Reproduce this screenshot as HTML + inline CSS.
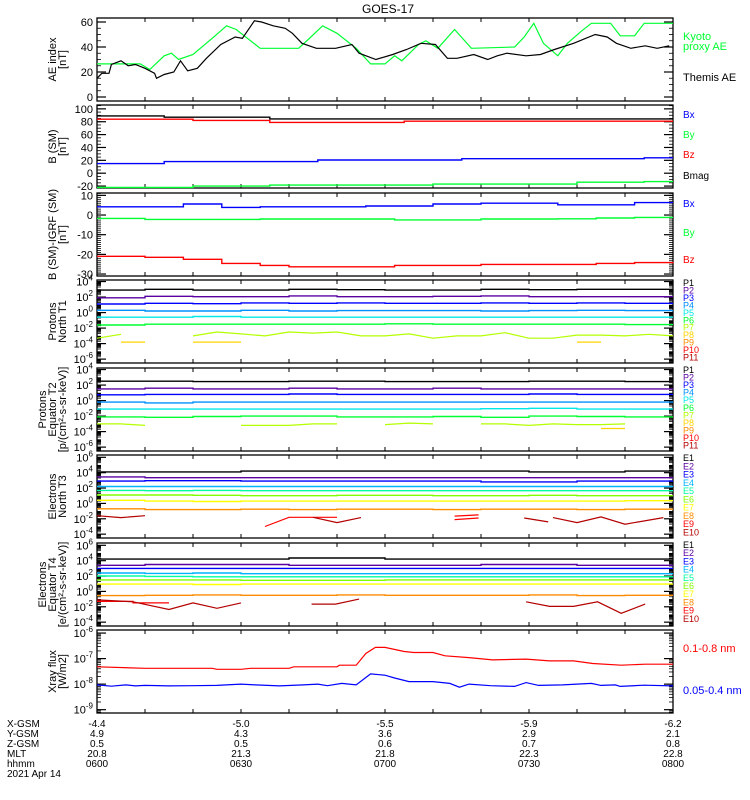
<!DOCTYPE html>
<html><head><meta charset="utf-8"><style>
html,body{margin:0;padding:0;background:#fff;}
svg{display:block;font-family:"Liberation Sans",sans-serif;}
</style></head><body>
<svg id="chart" width="750" height="800" viewBox="0 0 750 800" xmlns="http://www.w3.org/2000/svg"></svg>
<script>
// ---------- DATA ----------
const aeThemisTime=[0,1,2.5,3,5,6.5,8,10,12,12.4,14,16,17.4,18.9,20.9,22.8,25.8,28.8,30.3,32.8,34.3,36.7,39.2,40.7,42.7,45.7,49.7,53.1,54.6,58.1,61.6,64.5,67.5,70.5,73,75,78.5,81.4,83.4,85.4,89.4,92.4,95.3,99.3,103.8,106.3,108.2,111.2,114.2,116.7,119.2];
const aeThemis=[15,19,19,26,29,25,26,23,19,15,18,20,29,21,23,31,42,48,47,61,60,57,55,51,43,39,39,42,35,30,34,38,43,42,31,31,34,30,33,35,33,34,38,43,50,48,43,39,41,39,41];
const aeKyotoTime=[0,9,11,14,15.5,17,20,24,27,29,34,42,44,47,50,54,57,60,62,63.5,67,68.5,71,74.5,78,87,89,91,93,96,98,101,103,107,109,112,114,120];
const aeKyoto=[26.5,26.5,22,33,35,30,34,47,57,54,39,39,46,57,51,39,26.5,26.5,33,29,42,45,39,54,39,40,48,59,43,33,43,53,59,59,49,49,59,59];

const bsmTime=[0,10,14,20,26,30,36,40,46,50,56,60,64,70,76,80,86,90,96,100,106,110,114,120];
const bsmBx=[15,15,18,18,18,18,18,18,20.5,20.5,20.5,20.5,20.5,20.5,22.6,22.6,22.6,22.6,22.6,22.6,22.6,22.6,24,24];
const bsmBy=[-22,-22,-22,-20,-20,-20,-18.5,-18.5,-18.5,-18.5,-18.5,-18.5,-18.5,-17,-17,-17,-17,-17,-17,-14,-14,-14,-13,-13];
const bsmBz=[84,84,84,82,82,82,79,79,79,79,79,79,80.8,80.8,80.8,80.8,80.8,80.8,80.8,80.8,80.8,80.8,80.8,80.8];
const bsmBmag=[89,89,87,87,87,87,84.4,84.4,84.4,84.4,84.4,84.4,84.4,84.4,84.4,84.4,84.4,84.4,84.4,84.4,84.4,84.4,84.4,84.4];

const dbTime=[0,10,18,26,34,40,48,56,62,70,80,90,96,104,112,120];
const dbBx=[4.2,4.2,5.6,3.9,4.2,4.2,4.2,4.6,4.6,5.6,6,6,5.2,5.2,6.3,6.3];
const dbBy=[-1.7,-2.2,-2.2,-2.2,-2,-2,-2,-2,-2.5,-2.5,-2,-2,-1.9,-1.5,-1.2,-1.2];
const dbBz=[-21,-21.5,-22.5,-24.6,-25.6,-26.3,-26.3,-26.3,-25.6,-25.6,-25.1,-25.1,-25.1,-24.6,-24.2,-24.6];

const stepTimes=[0,10,20,30,40,50,60,70,80,90,100,110];
const t1P1=[2.9,3.0,2.9,2.9,3.0,2.95,2.9,2.9,3.0,2.95,3.0,3.0];
const t1P2=[1.9,2.1,2.05,2.05,2.15,2.05,2.05,2.1,2.15,2.05,2.05,2.05];
const t1P3=[1.1,1.2,1.15,1.25,1.2,1.25,1.2,1.2,1.25,1.2,1.25,1.2];
const t1P4=[0.3,0.2,0.2,0.3,0.2,0.25,0.25,0.25,0.2,0.25,0.3,0.25];
const t1P5=[-0.6,-0.6,-0.5,-0.6,-0.6,-0.6,-0.6,-0.6,-0.6,-0.6,-0.6,-0.6];
const t1P6=[-1.6,-1.5,-1.5,-1.5,-1.5,-1.5,-1.45,-1.5,-1.5,-1.5,-1.5,-1.55];
const t1P7Time=[0,5,12,20,25,30,35,40,45,50,55,60,65,70,75,80,85,90,95,100,105,110,115,120];
const t1P7=[-3.3,-2.8,null,-3.0,-2.5,-2.75,-3.0,-2.5,-2.65,-2.5,-3.0,-3.0,-2.75,-3.3,-3.0,-3.0,-2.6,-3.3,-3.3,-2.9,-2.9,-3.0,-2.8,-3.0];
const t1P8Time=[5,10,15,20,30,60,100,105];
const t1P8=[-3.8,-3.8,null,-3.8,-3.8,null,-3.8,-3.8];

const t2P1=[2.5,2.5,2.45,2.45,2.5,2.5,2.45,2.45,2.45,2.5,2.5,2.45];
const t2P2=[1.5,1.6,1.5,1.5,1.6,1.5,1.5,1.6,1.5,1.5,1.5,1.5];
const t2P3=[0.75,0.8,0.8,0.8,0.85,0.8,0.8,0.8,0.8,0.85,0.8,0.8];
const t2P4=[-0.2,-0.3,-0.2,-0.2,-0.2,-0.2,-0.2,-0.2,-0.2,-0.2,-0.2,-0.2];
const t2P5=[-1.1,-1.1,-1.1,-1.1,-1.1,-1.1,-1.1,-1.1,-1.05,-1.0,-1.1,-1.1];
const t2P6=[-2.1,-2.15,-2.05,-2.0,-2.0,-2.1,-2.1,-2.05,-2.15,-2.0,-2.05,-2.1];
const t2P7Time=[0,5,10,20,30,35,40,45,50,55,60,65,70,75,80,85,90,95,100,105,110];
const t2P7=[-3.0,-3.0,-3.2,null,-3.2,-3.2,-3.2,-3.0,-3.0,null,-3.1,-2.9,-3.0,null,-3.0,-3.0,-3.2,-3.0,-3.1,-3.1,-3.0];
const t2P8Time=[105,110];
const t2P8=[-3.6,-3.6];

const t3E1=[4.1,4.1,4.1,4.2,4.2,4.2,4.2,4.2,4.2,4.1,4.1,4.2];
const t3E2=[3.45,3.35,3.35,3.35,3.35,3.35,3.35,3.35,3.35,3.35,3.35,3.35];
const t3E3=[2.9,2.95,2.95,2.9,2.9,2.9,2.9,2.9,2.8,2.8,2.9,2.9];
const t3E4=[2.2,2.2,2.2,2.2,2.2,2.2,2.2,2.2,2.2,2.2,2.2,2.2];
const t3E5=[1.7,1.65,1.7,1.65,1.65,1.65,1.65,1.65,1.65,1.65,1.65,1.65];
const t3E6=[1.1,1.1,1.05,1.0,1.0,1.05,1.05,1.0,1.0,1.05,1.0,1.0];
const t3E7=[0.4,0.3,0.25,0.3,0.3,0.3,0.3,0.3,0.3,0.3,0.3,0.35];
const t3E8=[-0.7,-0.8,-0.8,-0.75,-0.8,-0.75,-0.75,-0.8,-0.75,-0.75,-0.8,-0.75];
const t3E9Time=[35,40,45,50,60,74.5,79.5,80,74.5,79.5];
const t3E9=[-3.0,-1.8,-1.8,-1.8,null,-1.65,-1.5,null,-2.1,-1.9];
const t3E10Time=[0,5,10,20,45,50,55,70,89,94,95,95,100,105,110,118];
const t3E10=[-1.6,-1.85,-1.6,null,-1.8,-2.5,-1.85,null,-1.9,-2.4,null,-1.85,-2.5,-1.75,-2.7,-1.85];

const t4E1=[4.2,4.2,4.2,4.2,4.35,4.35,4.2,4.2,4.2,4.2,4.2,4.2];
const t4E2=[3.4,3.5,3.5,3.5,3.4,3.4,3.4,3.4,3.5,3.5,3.4,3.4];
const t4E3=[3.0,3.0,3.0,3.0,3.0,3.0,3.0,3.0,3.0,3.0,3.0,3.0];
const t4E4=[2.4,2.35,2.4,2.3,2.3,2.3,2.3,2.3,2.3,2.3,2.3,2.3];
const t4E5=[2.0,1.95,1.9,1.9,1.9,1.9,1.9,1.9,1.9,1.9,1.9,1.9];
const t4E6=[1.5,1.5,1.5,1.45,1.45,1.45,1.5,1.5,1.5,1.5,1.5,1.5];
const t4E7=[0.95,0.95,0.9,0.95,0.95,0.95,0.95,0.95,0.95,0.95,0.95,0.95];
const t4E8=[-0.55,-0.5,-0.45,-0.5,-0.5,-0.45,-0.5,-0.5,-0.5,-0.45,-0.55,-0.5];
const t4E9Time=[0,7.5,7.5,15];
const t4E9=[-1.3,-1.3,-1.5,-1.5];
const t4E10Time=[0,7.5,15,20,25,30,38,44.7,49.7,54.6,70,89.4,94.3,99.3,104.3,109.2,114.2];
const t4E10=[-1.1,-1.35,-2.35,-1.5,-2.2,-1.5,null,-1.65,-1.65,-1.0,null,-1.35,-1.95,-1.95,-1.35,-2.85,-1.65];

const xrLongTime=[0,10,24,25,30,32,40,41,50,50.5,54,56,58,60,64,66,70,72.5,77.5,82.4,89.4,94.3,99.3,103.3,109.2,114.2,120];
const xrLong=[-7.32,-7.38,-7.38,-7.42,-7.42,-7.38,-7.38,-7.32,-7.32,-7.26,-7.26,-6.8,-6.56,-6.56,-6.72,-6.76,-6.76,-6.89,-6.96,-7.05,-7.02,-7.09,-7.09,-7.19,-7.26,-7.22,-7.22];
const xrShortTime=[0,3,6,8,10,15,20,25,30,33,38,43,46,48,51,54,57,60,62,65,70,73.5,75.5,77.5,82,87,89.4,92,97,103,105,108,109,114,120];
const xrShort=[-8.03,-8.08,-8.03,-8.07,-8.05,-8.07,-8.06,-8.05,-8.0,-8.03,-8.07,-8.03,-8.0,-8.06,-7.97,-8.03,-7.6,-7.65,-7.76,-7.9,-7.9,-7.97,-8.12,-8.0,-8.06,-8.09,-7.94,-8.05,-8.03,-7.97,-8.05,-8.03,-8.09,-8.04,-8.07];

const aeTickLabels=[0,20,40,60];
const bsmTickLabels=[-20,0,20,40,60,80,100];
const dbTickLabels=[-30,-20,-10,0,10];
const protonTickExps=[-6,-4,-2,0,2,4];
const electronTickExps=[-4,-2,0,2,4,6];
const xrayTickExps=[-9,-8,-7,-6];
const xGsm=["-4.4","-5.0","-5.5","-5.9","-6.2"];
const yGsm=["4.9","4.3","3.6","2.9","2.1"];
const zGsm=["0.5","0.5","0.6","0.7","0.8"];
const mlt=["20.8","21.3","21.8","22.3","22.8"];
const hhmm=["0600","0630","0700","0730","0800"];

// ---------- DRAW ----------
const NS="http://www.w3.org/2000/svg";
const svg=document.getElementById('chart');
const X0=97,X1=673,T_MAX=120,PH=83;
function xs(t){return X0+(t/T_MAX)*(X1-X0);}
function mk(tag,attrs,parent){const e=document.createElementNS(NS,tag);for(const k in attrs)e.setAttribute(k,attrs[k]);(parent||svg).appendChild(e);return e;}
function makeY(top,lo,hi){return v=>top+PH-(v-lo)/(hi-lo)*PH;}

const COL={blk:"#000",pur:"#5a00a0",blu:"#0000ff",dod:"#0090ff",cyn:"#00e8e8",grn:"#00ff30",yg:"#b4ff00",yel:"#ffd400",org:"#ff8c00",red:"#ff0000",drd:"#b40000",spr:"#00ffa0",lim:"#80ff00",ye2:"#ffff00"};

function drawLine(g,tArr,vArr,ys,color,name){
  let d="",pen=false;
  for(let i=0;i<tArr.length;i++){
    if(vArr[i]===null||vArr[i]===undefined){pen=false;continue;}
    d+=(pen?"L":"M")+xs(tArr[i]).toFixed(1)+","+ys(vArr[i]).toFixed(1);pen=true;
  }
  const p=mk('path',{d:d,fill:"none",stroke:color,"stroke-width":1.2},g);
  
  
}
function drawStep(g,tArr,vArr,ys,color,name){
  let d="";
  for(let i=0;i<tArr.length;i++){
    const xa=xs(tArr[i]),xb=xs(i+1<tArr.length?tArr[i+1]:T_MAX),y=ys(vArr[i]).toFixed(1);
    d+=(i===0?"M":"L")+xa.toFixed(1)+","+y+"L"+xb.toFixed(1)+","+y;
  }
  const p=mk('path',{d:d,fill:"none",stroke:color,"stroke-width":1.4},g);
  
  
}
function frame(g,top,ysc,ticks,log,minorStep,lo,hi,labelFn){
  mk('rect',{x:X0,y:top,width:X1-X0,height:PH,fill:"none",stroke:"#000","stroke-width":1.3},g);
  // x ticks every 10 min
  for(let t=10;t<T_MAX;t+=10){
    const x=xs(t);
    mk('line',{x1:x,y1:top,x2:x,y2:top+4,stroke:"#000"},g);
    mk('line',{x1:x,y1:top+PH,x2:x,y2:top+PH-4,stroke:"#000"},g);
  }
  // minor y ticks
  if(log){
    for(let e=Math.floor(lo);e<hi;e++){
      for(let m=2;m<10;m++){const v=e+Math.log10(m);if(v<=lo||v>=hi)continue;const y=ysc(v);
        mk('line',{x1:X0,y1:y,x2:X0+4,y2:y,stroke:"#000","stroke-width":0.8},g);
        mk('line',{x1:X1,y1:y,x2:X1-4,y2:y,stroke:"#000","stroke-width":0.8},g);}
    }
  }else if(minorStep){
    for(let v=Math.ceil(lo/minorStep)*minorStep;v<hi;v+=minorStep){const y=ysc(v);
      mk('line',{x1:X0,y1:y,x2:X0+4,y2:y,stroke:"#000","stroke-width":0.8},g);
      mk('line',{x1:X1,y1:y,x2:X1-4,y2:y,stroke:"#000","stroke-width":0.8},g);}
  }
  ticks.forEach(v=>{
    const y=ysc(v);
    mk('line',{x1:X0,y1:y,x2:X0+9,y2:y,stroke:"#000","stroke-width":1.2},g);
    mk('line',{x1:X1,y1:y,x2:X1-9,y2:y,stroke:"#000","stroke-width":1.2},g);
    const tx=mk('text',{x:X0-4,y:y+4,"font-size":11,"text-anchor":"end"},g);
    if(log){tx.textContent="10";const s=mk('tspan',{dy:-5,"font-size":8},tx);s.textContent=String(v);}
    else tx.textContent=String(v);
    
    
  });
}
function ytitle(g,top,lines){
  const cy=top+PH/2,n=lines.length;
  lines.forEach((s,i)=>{
    const bx=66-(n-1-i)*10;
    const t=mk('text',{x:bx,y:cy,"font-size":11,"text-anchor":"middle",transform:`rotate(-90 ${bx} ${cy})`},g);
    t.textContent=s;
    
    
  });
}
function legend(g,items,x){
  items.forEach(it=>{
    const t=mk('text',{x:x,y:it[2],"font-size":it[3]||10,fill:it[1]},g);
    t.textContent=it[0];
    
    
  });
}
function panel(name){const g=mk('g',{});return g;}

// title
const title=mk('text',{x:388,y:13,"font-size":12,"text-anchor":"middle"});
title.textContent="GOES-17";



// Panel 1 AE
{const top=18,lo=-3.2,hi=63.2,ys=makeY(top,lo,hi),g=panel('ae-index-panel');
 frame(g,top,ys,aeTickLabels,false,5,lo,hi);
 drawLine(g,aeKyotoTime,aeKyoto,ys,COL.grn,'kyoto-ae-line');
 drawLine(g,aeThemisTime,aeThemis,ys,COL.blk,'themis-ae-line');
 ytitle(g,top,["AE index","[nT]"]);
 legend(g,[["Kyoto",COL.grn,40,11],["proxy AE",COL.grn,50,11],["Themis AE","#000",81,11]],683);}
// Panel 2 B SM
{const top=105,lo=-23,hi=106,ys=makeY(top,lo,hi),g=panel('b-sm-panel');
 frame(g,top,ys,bsmTickLabels,false,5,lo,hi);
 drawStep(g,bsmTime,bsmBmag,ys,COL.blk,'bmag-line');
 drawStep(g,bsmTime,bsmBz,ys,COL.red,'bz-line');
 drawStep(g,bsmTime,bsmBx,ys,COL.blu,'bx-line');
 drawStep(g,bsmTime,bsmBy,ys,COL.grn,'by-line');
 ytitle(g,top,["B (SM)","[nT]"]);
 legend(g,[["Bx",COL.blu,118],["By",COL.grn,138],["Bz",COL.red,158],["Bmag","#000",179]],683);}
// Panel 3 B-IGRF
{const top=193,lo=-31,hi=11.2,ys=makeY(top,lo,hi),g=panel('b-minus-igrf-panel');
 frame(g,top,ys,dbTickLabels,false,1,lo,hi);
 drawStep(g,dbTime,dbBx,ys,COL.blu,'dbx-line');
 drawStep(g,dbTime,dbBy,ys,COL.grn,'dby-line');
 drawStep(g,dbTime,dbBz,ys,COL.red,'dbz-line');
 ytitle(g,top,["B (SM)-IGRF (SM)","[nT]"]);
 legend(g,[["Bx",COL.blu,207],["By",COL.grn,236],["Bz",COL.red,263]],683);}
const pNames=["P1","P2","P3","P4","P5","P6","P7","P8","P9","P10","P11"];
const pCols=[COL.blk,COL.pur,COL.blu,COL.dod,COL.cyn,COL.grn,COL.yg,COL.yel,COL.org,COL.red,COL.drd];
// Panel 4 protons T1
{const top=280,lo=-6.5,hi=4.2,ys=makeY(top,lo,hi),g=panel('protons-north-t1-panel');
 frame(g,top,ys,protonTickExps,true,0,lo,hi);
 [t1P1,t1P2,t1P3,t1P4,t1P5,t1P6].forEach((a,i)=>drawStep(g,stepTimes,a,ys,pCols[i],'proton-t1-'+pNames[i].toLowerCase()));
 drawLine(g,t1P7Time,t1P7,ys,COL.yg,'proton-t1-p7');
 drawLine(g,t1P8Time,t1P8,ys,COL.yel,'proton-t1-p8');
 ytitle(g,top,["Protons","North T1"]);
 legend(g,pNames.map((n,i)=>[n,pCols[i],286+i*7.45,9]),683);}
// Panel 5 protons T2
{const top=368,lo=-6.5,hi=4.2,ys=makeY(top,lo,hi),g=panel('protons-equator-t2-panel');
 frame(g,top,ys,protonTickExps,true,0,lo,hi);
 [t2P1,t2P2,t2P3,t2P4,t2P5,t2P6].forEach((a,i)=>drawStep(g,stepTimes,a,ys,pCols[i],'proton-t2-'+pNames[i].toLowerCase()));
 drawLine(g,t2P7Time,t2P7,ys,COL.yg,'proton-t2-p7');
 drawLine(g,t2P8Time,t2P8,ys,COL.yel,'proton-t2-p8');
 ytitle(g,top,["Protons","Equator T2","[p/(cm\u00b2-s-sr-keV)]"]);
 legend(g,pNames.map((n,i)=>[n,pCols[i],373+i*7.55,9]),683);}
const eNames=["E1","E2","E3","E4","E5","E6","E7","E8","E9","E10"];
const eCols=[COL.blk,COL.pur,COL.blu,"#00b4ff",COL.spr,COL.lim,COL.ye2,COL.org,COL.red,COL.drd];
// Panel 6 electrons T3
{const top=455,lo=-4.5,hi=6.3,ys=makeY(top,lo,hi),g=panel('electrons-north-t3-panel');
 frame(g,top,ys,electronTickExps,true,0,lo,hi);
 [t3E1,t3E2,t3E3,t3E4,t3E5,t3E6,t3E7,t3E8].forEach((a,i)=>drawStep(g,stepTimes,a,ys,eCols[i],'electron-t3-'+eNames[i].toLowerCase()));
 drawLine(g,t3E9Time,t3E9,ys,COL.red,'electron-t3-e9');
 drawLine(g,t3E10Time,t3E10,ys,COL.drd,'electron-t3-e10');
 ytitle(g,top,["Electrons","North T3"]);
 legend(g,eNames.map((n,i)=>[n,eCols[i],461+i*8.25,9]),683);}
// Panel 7 electrons T4
{const top=543,lo=-4.5,hi=6.3,ys=makeY(top,lo,hi),g=panel('electrons-equator-t4-panel');
 frame(g,top,ys,electronTickExps,true,0,lo,hi);
 [t4E1,t4E2,t4E3,t4E4,t4E5,t4E6,t4E7,t4E8].forEach((a,i)=>drawStep(g,stepTimes,a,ys,eCols[i],'electron-t4-'+eNames[i].toLowerCase()));
 drawLine(g,t4E9Time,t4E9,ys,COL.red,'electron-t4-e9');
 drawLine(g,t4E10Time,t4E10,ys,COL.drd,'electron-t4-e10');
 ytitle(g,top,["Electrons","Equator T4","[e/(cm\u00b2-s-sr-keV)]"]);
 legend(g,eNames.map((n,i)=>[n,eCols[i],548+i*8.2,9]),683);}
// Panel 8 xray
{const top=630,lo=-9.13,hi=-5.88,ys=makeY(top,lo,hi),g=panel('xray-flux-panel');
 frame(g,top,ys,xrayTickExps,true,0,lo,hi);
 drawLine(g,xrLongTime,xrLong,ys,COL.red,'xray-long-line');
 drawLine(g,xrShortTime,xrShort,ys,COL.blu,'xray-short-line');
 ytitle(g,top,["Xray flux","[W/m2]"]);
 legend(g,[["0.1-0.8 nm",COL.red,652,11],["0.05-0.4 nm",COL.blu,694,11]],683);}

// bottom ephemeris labels
{const g=panel('ephemeris-table');
 const rows=[["X-GSM",xGsm],["Y-GSM",yGsm],["Z-GSM",zGsm],["MLT",mlt],["hhmm",hhmm]];
 rows.forEach((r,ri)=>{
   const y=727+ri*10;
   const h=mk('text',{x:7,y:y,"font-size":10},g);h.textContent=r[0];
   
   
   r[1].forEach((v,i)=>{
     const t=mk('text',{x:xs(i*30),y:y,"font-size":10,"text-anchor":"middle"},g);t.textContent=v;
     
     
   });
 });
 const d=mk('text',{x:7,y:777,"font-size":10},g);d.textContent="2021 Apr 14";
 
 }
</script>
</body></html>
